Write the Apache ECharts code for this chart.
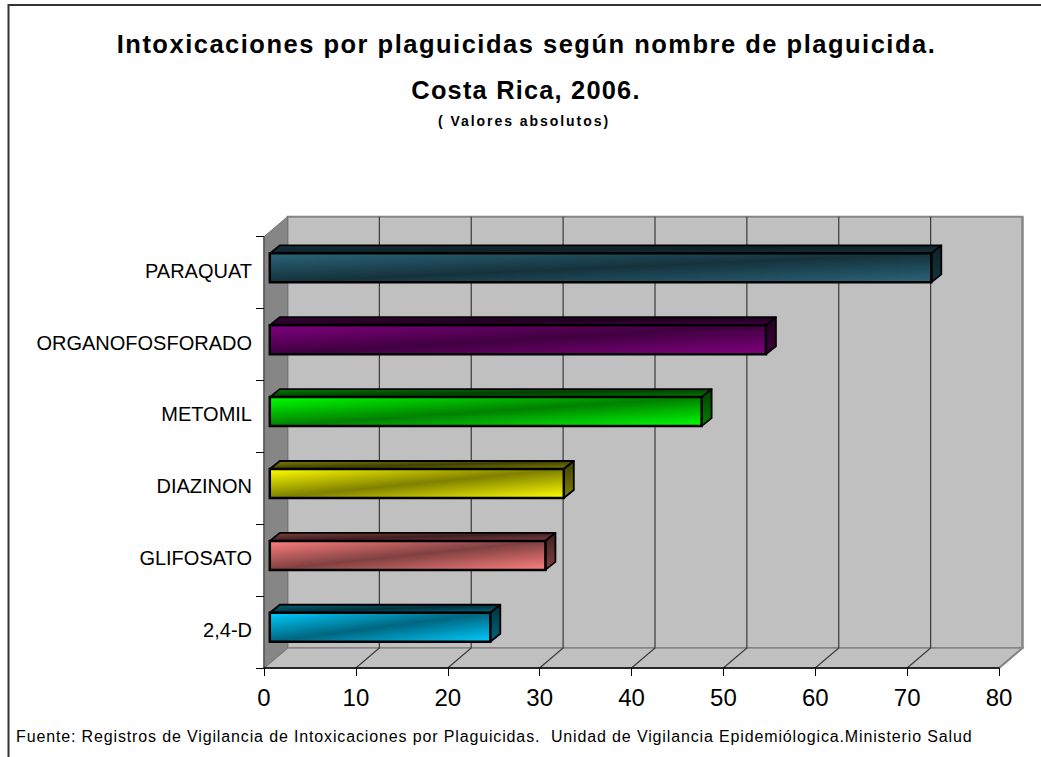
<!DOCTYPE html>
<html>
<head>
<meta charset="utf-8">
<style>
  html, body { margin: 0; padding: 0; background: #fff; }
  #chart { width: 1041px; height: 757px; }
  /* titles in the original are tracked out, only the svg renderer lets us do that */
  #chart text[style*="25.5px"] { letter-spacing: 1.5px; }
  #chart text[style*="25.4px"] { letter-spacing: 1.2px; }
  #chart text[style*="14px"] { letter-spacing: 1.95px; }
  #chart text[style*="16px"] { letter-spacing: 0.86px; }
</style>
<script src="https://cdn.jsdelivr.net/npm/echarts@6/dist/echarts.min.js"></script>
</head>
<body>
<div id="chart"></div>
<script>
const categories = ['PARAQUAT', 'ORGANOFOSFORADO', 'METOMIL', 'DIAZINON', 'GLIFOSATO', '2,4-D'];
const values = [72, 54, 47, 32, 30, 24];
const xTicks = [0, 10, 20, 30, 40, 50, 60, 70, 80];
const brightColors = ['#2A6579', '#800080', '#00FF00', '#FFFF00', '#FF8080', '#00CCFF'];
const darkColors = ['#15323C', '#400040', '#008000', '#808000', '#804040', '#006680'];
const shadeColors = ['#0E2229', '#200020', '#004000', '#404000', '#402020', '#003340'];

// depth of the fake 3D box and of the bars inside it
const wallDx = 23.5, wallDy = -20;
const barDx = 10, barDy = -8, barInsetX = 5.8, barInsetY = -4.8, barHeight = 29;

function diagGradient(x, y, w, h, bright, dark) {
  // dark band runs along the anti-diagonal of the face
  const k = (w * h) / (w * w + h * h);
  const cx = x + w / 2, cy = y + h / 2;
  return {
    type: 'linear', global: true,
    x: cx - h * k, y: cy - w * k, x2: cx + h * k, y2: cy + w * k,
    colorStops: [
      { offset: 0, color: bright },
      { offset: 0.5, color: dark },
      { offset: 1, color: bright },
    ],
  };
}

function renderWalls(params, api) {
  const r = params.coordSys;
  const x0 = r.x, x1 = r.x + r.width, y0 = r.y, y1 = r.y + r.height;
  const poly = (points, fill, stroke, w) => ({
    type: 'polygon', shape: { points },
    style: { fill, stroke, lineWidth: w },
  });
  return {
    type: 'group',
    children: [
      poly([[x0 + wallDx, y0 + wallDy], [x1 + wallDx, y0 + wallDy], [x1 + wallDx, y1 + wallDy], [x0 + wallDx, y1 + wallDy]], '#C0C0C0', '#868686', 2),
      poly([[x0, y1], [x0 + wallDx, y1 + wallDy], [x1 + wallDx, y1 + wallDy], [x1, y1]], '#C0C0C0', '#868686', 1.5),
      poly([[x0, y0], [x0 + wallDx, y0 + wallDy], [x0 + wallDx, y1 + wallDy], [x0, y1]], '#868686', '#777777', 1),
    ],
  };
}

function renderGridLine(params, api) {
  const t = api.value(0);
  const r = params.coordSys;
  const x = api.coord([t, 0])[0];
  const y1 = r.y + r.height;
  const color = t === 0 || t === 80 ? '#868686' : '#3A3A3A';
  const children = [];
  if (t !== 0) {
    children.push({
      type: 'polyline',
      shape: { points: [[x, y1], [x + wallDx, y1 + wallDy], [x + wallDx, r.y + wallDy]] },
      style: { fill: null, stroke: color, lineWidth: t === 80 ? 2 : 1.2 },
    });
  }
  return { type: 'group', children };
}

function renderBar(params, api) {
  const i = params.dataIndex;
  const start = api.coord([0, api.value(1)]);
  const end = api.coord([api.value(0), api.value(1)]);
  const x = start[0] + barInsetX;
  const w = end[0] - start[0];
  const y = start[1] + barInsetY - barHeight / 2;
  const h = barHeight;
  const edge = { stroke: '#000', lineWidth: 1.8, lineJoin: 'round' };
  return {
    type: 'group',
    children: [
      {
        type: 'polygon',
        shape: { points: [[x, y], [x + barDx, y + barDy], [x + w + barDx, y + barDy], [x + w, y]] },
        style: { ...edge, fill: diagGradient(x, y + barDy, w + barDx, -barDy, darkColors[i], shadeColors[i]) },
      },
      {
        type: 'polygon',
        shape: { points: [[x + w, y], [x + w + barDx, y + barDy], [x + w + barDx, y + h + barDy], [x + w, y + h]] },
        style: {
          ...edge,
          fill: {
            type: 'linear', x: 0, y: 0, x2: 0, y2: 1,
            colorStops: [
              { offset: 0, color: shadeColors[i] },
              { offset: 1, color: darkColors[i] },
            ],
          },
        },
      },
      {
        type: 'rect',
        shape: { x, y, width: w, height: h },
        style: { stroke: '#000', lineWidth: 2.5, fill: diagGradient(x, y, w, h, brightColors[i], darkColors[i]) },
      },
    ],
  };
}

const chart = echarts.init(document.getElementById('chart'), null, { renderer: 'svg' });
const fontFamily = '"Liberation Sans", Arial, sans-serif';
const titleStyle = (size) => ({ color: '#000', fontWeight: 'bold', fontSize: size, fontFamily });

chart.setOption({
  animation: false,
  backgroundColor: '#fff',
  title: [
    { text: 'Intoxicaciones por plaguicidas según nombre de plaguicida.', left: 526.5, top: 31, textAlign: 'center', padding: 0, textStyle: titleStyle(25.5) },
    { text: 'Costa Rica, 2006.', left: 526, top: 77, textAlign: 'center', padding: 0, textStyle: titleStyle(25.4) },
    { text: '( Valores absolutos)', left: 524, top: 114, textAlign: 'center', padding: 0, textStyle: titleStyle(14) },
    { text: 'Fuente: Registros de Vigilancia de Intoxicaciones por Plaguicidas.  Unidad de Vigilancia Epidemiólogica.Ministerio Salud', left: 16, top: 728, padding: 0, textStyle: { color: '#000', fontWeight: 'normal', fontSize: 16, fontFamily } },
  ],
  graphic: [{
    type: 'polyline',
    shape: { points: [[8.5, 757], [8.5, 5], [1041, 5]] },
    style: { fill: null, stroke: '#333', lineWidth: 2 },
  }],
  grid: { left: 264, top: 236.7, width: 735, height: 431.3 },
  xAxis: {
    type: 'value', min: 0, max: 80, interval: 10, z: 5,
    splitLine: { show: false },
    axisLine: { show: true, lineStyle: { color: '#000', width: 1.5 } },
    axisTick: { show: true, length: 8, lineStyle: { color: '#000', width: 1 } },
    axisLabel: { margin: 17, color: '#000', fontSize: 24, fontFamily },
  },
  yAxis: {
    type: 'category', data: categories, inverse: true, z: 5,
    axisLine: { show: true, lineStyle: { color: '#555', width: 1.5 } },
    axisTick: { show: true, length: 8, alignWithLabel: false, lineStyle: { color: '#000', width: 1 } },
    axisLabel: { margin: 12, color: '#000', fontSize: 20, fontFamily, verticalAlign: 'bottom', lineHeight: 4 },
  },
  series: [
    { type: 'custom', renderItem: renderWalls, data: [[0, categories[0]]], encode: { x: 0, y: 1 }, z: 1, clip: false, silent: true },
    { type: 'custom', renderItem: renderGridLine, data: xTicks.map((t) => [t, categories[0]]), encode: { x: 0, y: 1 }, z: 2, clip: false, silent: true },
    { type: 'custom', renderItem: renderBar, data: values.map((v, i) => [v, categories[i]]), encode: { x: 0, y: 1 }, z: 3, clip: false },
  ],
});
</script>
</body>
</html>
